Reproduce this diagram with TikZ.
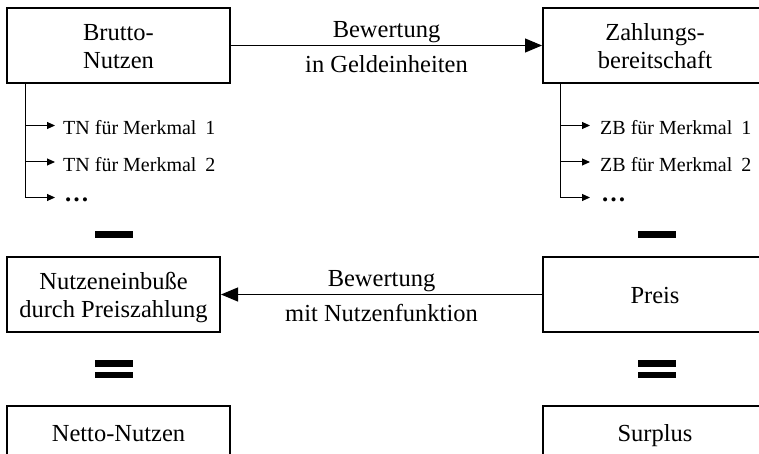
\documentclass[tikz,border=0pt]{standalone}
\usepackage{fontspec}
\setmainfont{Liberation Serif}
\usetikzlibrary{arrows.meta}
\begin{document}
\begin{tikzpicture}[x=1pt,y=-1pt,
  box/.style={draw=black, line width=2pt, minimum height=75pt, inner sep=0pt,
    align=center, font=\fontsize{24.5}{28}\selectfont, text height=18pt, text depth=0pt},
  twoline/.style={text height=46pt},
  lowbox/.style={box, minimum height=52pt},
  bigarrow/.style={line width=1pt, -{Triangle[length=17pt,width=14pt]}},
  smallarrow/.style={line width=1pt, -{Triangle[length=8pt,width=7pt]}},
  item/.style={anchor=west, inner sep=0pt, font=\fontsize{20}{24}\selectfont,
    text height=19pt, text depth=0pt},
  dots/.style={item, text height=9pt, font=\fontsize{25}{28}\selectfont\bfseries},
  lbl/.style={anchor=base, inner sep=0pt, font=\fontsize{24.5}{28}\selectfont},
  bar/.style={fill=black, inner sep=0pt, minimum width=38pt, minimum height=7pt}
]
\useasboundingbox (0,0) rectangle (759,454);
\clip (0,0) rectangle (759,454);

% main boxes
\node[box, twoline, minimum width=223pt] (brutto) at (118.5,45.5) {Brutto-\\Nutzen};
\node[box, twoline, minimum width=224pt] (zahl) at (655,45.5) {Zahlungs-\\bereitschaft};
\node[box, twoline, minimum width=213pt] (einb) at (113.5,294.5) {Nutzeneinbuße\\durch Preiszahlung};
\node[box, minimum width=224pt] (preis) at (655,294.5) {Preis};
\node[lowbox, minimum width=223pt] (netto) at (118.5,432) {Netto-Nutzen};
\node[lowbox, minimum width=224pt] (surplus) at (655,432) {Surplus};

% valuation arrows with their labels
\draw[bigarrow] (brutto.east) -- (zahl.west);
\node[lbl] (bw1) at (386.5,37.5) {Bewertung};
\node[lbl] (bw1b) at (386.5,72.5) {in Geldeinheiten};
\draw[bigarrow] (preis.west) -- (einb.east);
\node[lbl] (bw2) at (381.5,286.7) {Bewertung};
\node[lbl] (bw2b) at (381.5,321.7) {mit Nutzenfunktion};

% partial utilities
\coordinate (trunkL) at (25,83);
\node[item] (tn1) at (63,125.5) {TN für Merkmal\hspace{0.45em}1};
\node[item] (tn2) at (63,162) {TN für Merkmal\hspace{0.45em}2};
\node[dots] (tn3) at (64,197.5) {…};
\draw[smallarrow] (tn1.west -| trunkL) -- ([xshift=-8pt]tn1.west);
\draw[smallarrow] (tn2.west -| trunkL) -- ([xshift=-8pt]tn2.west);
\draw[smallarrow] (trunkL) |- ([xshift=-9pt]tn3.west);

% partial willingness to pay
\coordinate (trunkR) at (560,83);
\node[item] (zb1) at (600,125.5) {ZB für Merkmal\hspace{0.45em}1};
\node[item] (zb2) at (600,162) {ZB für Merkmal\hspace{0.45em}2};
\node[dots] (zb3) at (601,197.5) {…};
\draw[smallarrow] (zb1.west -| trunkR) -- ([xshift=-10pt]zb1.west);
\draw[smallarrow] (zb2.west -| trunkR) -- ([xshift=-10pt]zb2.west);
\draw[smallarrow] (trunkR) |- ([xshift=-11pt]zb3.west);

% minus and equals signs
\node[bar] (minusL) at (114,234.5) {};
\node[bar] (minusR) at (656.5,234.5) {};
\node[bar, minimum height=6.5pt] (eqLa) at (114,363.3) {};
\node[bar, minimum height=6.5pt] (eqLb) at (114,375) {};
\node[bar, minimum height=6.5pt] (eqRa) at (656.5,363.3) {};
\node[bar, minimum height=6.5pt] (eqRb) at (656.5,375) {};
\end{tikzpicture}
\end{document}
